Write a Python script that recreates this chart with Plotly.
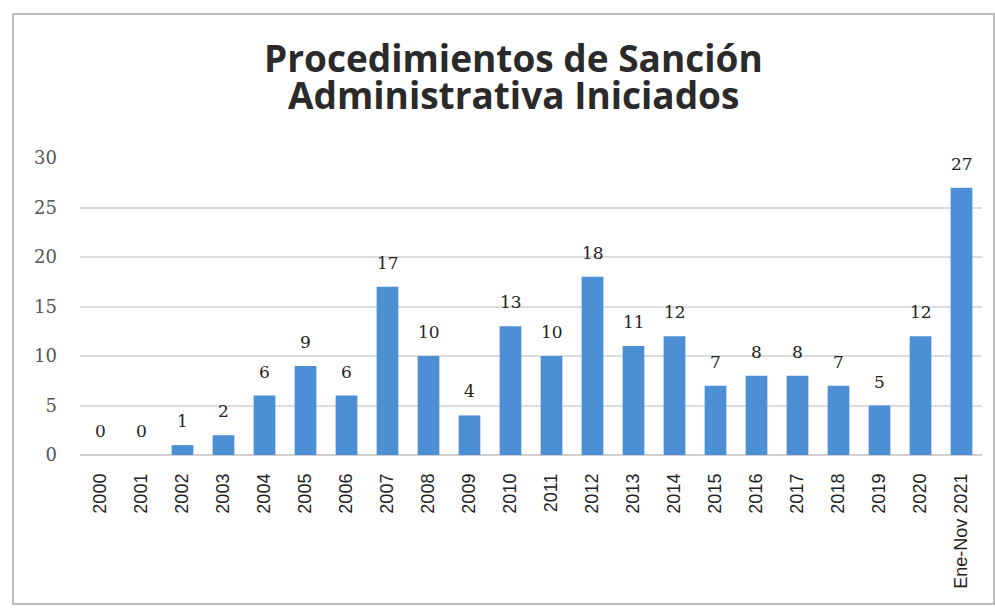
import plotly.graph_objects as go

categories = ["2000", "2001", "2002", "2003", "2004", "2005", "2006", "2007", "2008", "2009",
              "2010", "2011", "2012", "2013", "2014", "2015", "2016", "2017", "2018", "2019",
              "2020", "Ene-Nov 2021"]
values = [0, 0, 1, 2, 6, 9, 6, 17, 10, 4, 13, 10, 18, 11, 12, 7, 8, 8, 7, 5, 12, 27]
y_ticks = [0, 5, 10, 15, 20, 25, 30]
title_lines = ["Procedimientos de Sanción", "Administrativa Iniciados"]

W, H = 995, 608
L, R, T, B = 80, 13, 158, 153
pw, ph = W - L - R, H - T - B

fig = go.Figure(go.Bar(
    x=categories, y=values,
    marker=dict(color="#4C8FD5", line=dict(width=0)),
    hoverinfo="x+y",
))

# value labels; on a category axis, annotation x is the category index
for i, v in enumerate(values):
    fig.add_annotation(x=i, y=v, text=str(v), showarrow=False, yanchor="bottom", yshift=12,
                       font=dict(family="DejaVu Serif, serif", size=17, color="#222222"))

def px_to_paper_x(px):
    return (px - L) / pw

def px_to_paper_y(py):
    return (H - B - py) / ph

# two-line title with tight line spacing, as in the reference
for line, ypx in zip(title_lines, [57, 94]):
    fig.add_annotation(text=line, xref="paper", yref="paper",
                       x=px_to_paper_x(513), y=px_to_paper_y(ypx),
                       xanchor="center", yanchor="middle", showarrow=False,
                       font=dict(family="Open Sans, sans-serif", size=37, color="#2a2a2a", weight="bold"))

fig.add_shape(type="rect", xref="paper", yref="paper",
              x0=px_to_paper_x(13), x1=px_to_paper_x(994),
              y0=px_to_paper_y(604), y1=px_to_paper_y(14),
              line=dict(color="#a8a8a8", width=1.5), fillcolor="rgba(0,0,0,0)", layer="below")

fig.update_layout(
    width=W, height=H,
    margin=dict(l=L, r=R, t=T, b=B),
    paper_bgcolor="white", plot_bgcolor="white",
    bargap=0.47,
    showlegend=False,
    xaxis=dict(type="category", tickangle=-90, showgrid=False, showline=False, ticks="",
               ticklabelstandoff=14,
               tickfont=dict(family="Liberation Sans Narrow, sans-serif", size=18, color="#222222")),
    yaxis=dict(range=[0, 30], tickvals=y_ticks, showgrid=True, gridcolor="#dcdcdc", gridwidth=1.5,
               zeroline=True, zerolinecolor="#d0d0d0", ticks="", ticklabelstandoff=22,
               tickfont=dict(family="DejaVu Serif, serif", size=18, color="#555555")),
)

fig.write_html("out.html", config={"displayModeBar": False},
               post_script="document.body.style.margin='0';document.body.style.overflow='hidden';")
